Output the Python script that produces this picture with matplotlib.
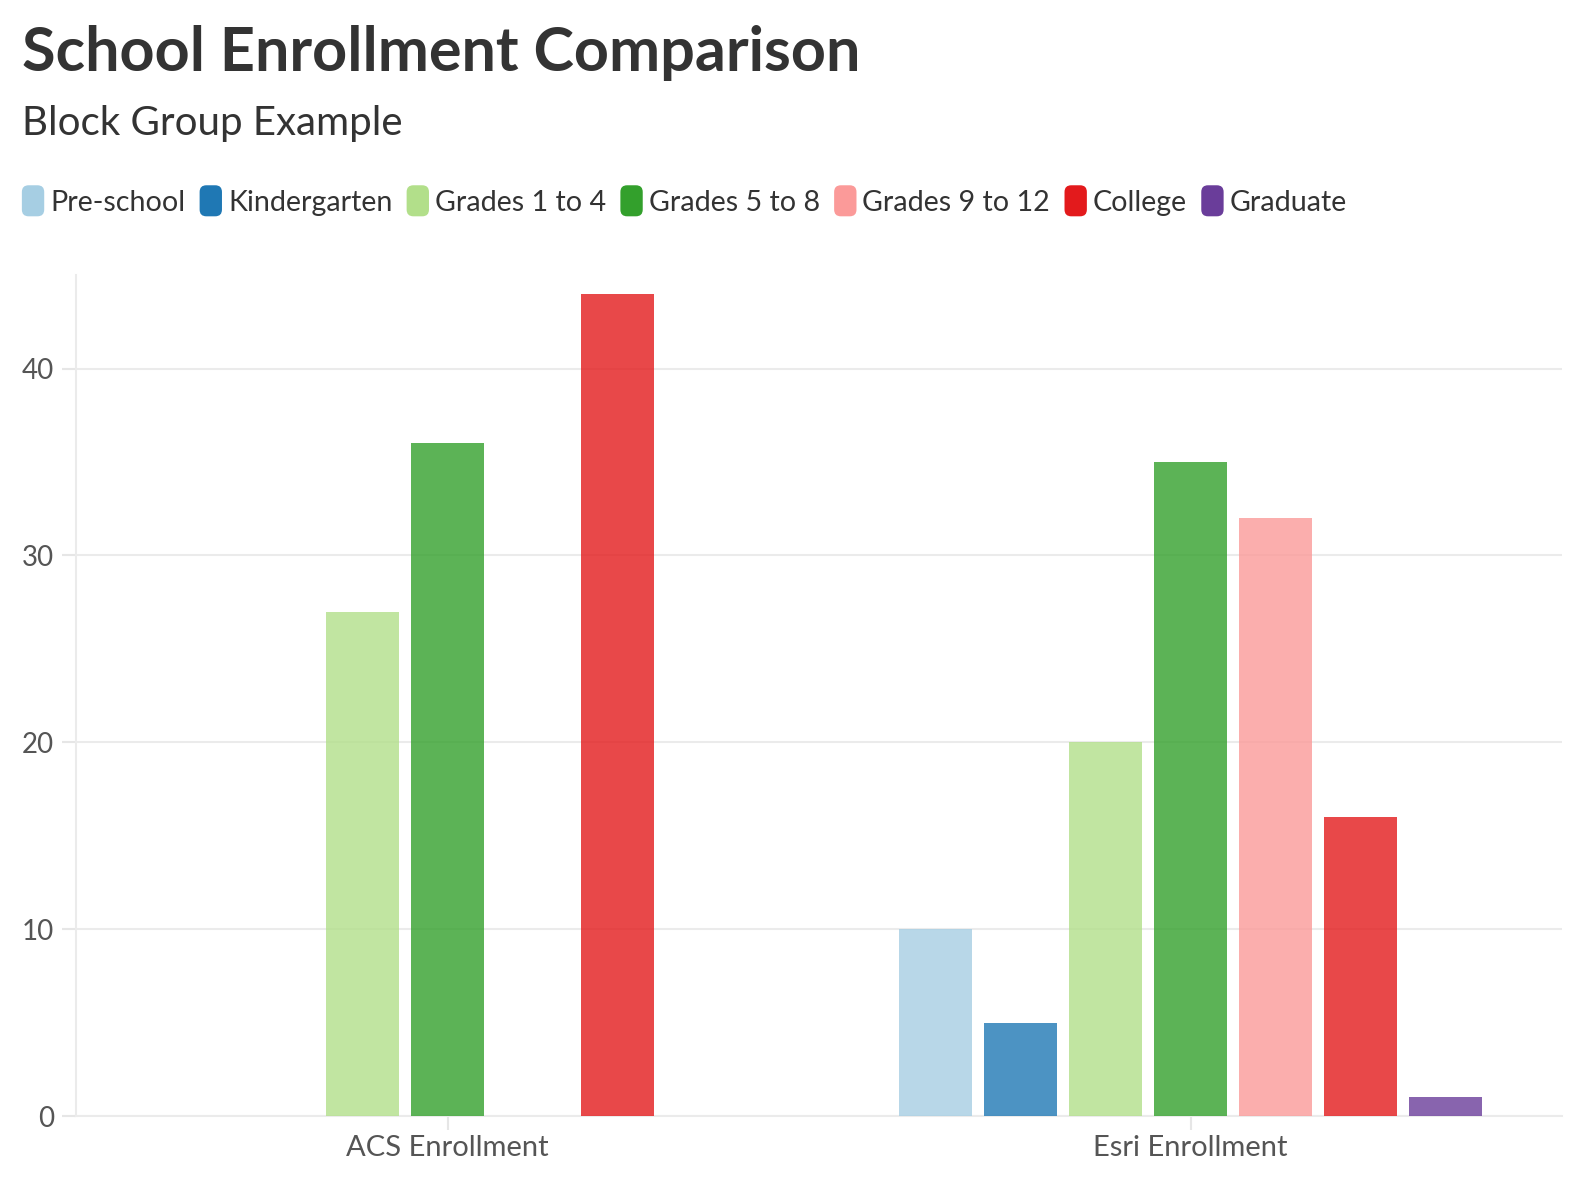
import numpy as np
import matplotlib
matplotlib.use("Agg")
import matplotlib.pyplot as plt
from matplotlib.patches import FancyBboxPatch
from matplotlib.legend_handler import HandlerPatch
from matplotlib.patches import Patch

plt.rcParams['font.family'] = ['Lato', 'DejaVu Sans']

groups = ["ACS Enrollment", "Esri Enrollment"]
levels = ["Pre-school", "Kindergarten", "Grades 1 to 4", "Grades 5 to 8",
          "Grades 9 to 12", "College", "Graduate"]
acs = [0, 0, 27, 36, 0, 44, 0]
esri = [10, 5, 20, 35, 32, 16, 1]
colors = ["#a6cee3", "#1f78b4", "#b2df8a", "#33a02c", "#fb9a99", "#e31a1c", "#6a3d9a"]


class RoundBox(HandlerPatch):
    def create_artists(self, legend, orig_handle, xdescent, ydescent, width, height, fontsize, trans):
        h = height * 1.55
        w = h * 0.72
        p = FancyBboxPatch((-xdescent + (width - w) / 2, -ydescent + (height - h) / 2), w, h,
                           boxstyle="round,pad=0,rounding_size=%f" % (w * 0.3),
                           facecolor=orig_handle.get_facecolor(), edgecolor="none", transform=trans)
        return [p]


fig = plt.figure(figsize=(15.88, 11.86), dpi=100)
ax = fig.add_axes([0.048, 0.059, 0.9356, 0.709])

values = np.array([acs, esri])
x = np.arange(len(groups))
n = len(levels)
slot = 0.8 / n
for i in range(n):
    ax.bar(x - 0.4 + slot * (i + 0.5), values[:, i], width=slot * 0.86,
           color=colors[i], alpha=0.8, linewidth=0, zorder=3)

ax.set_xlim(-0.5, 1.5)
ax.set_ylim(0, 45)
ax.set_yticks([0, 10, 20, 30, 40])
ax.set_xticks(x)
ax.set_xticklabels(groups)
ax.grid(axis="y", color="#ebebeb", linewidth=1.5, zorder=0)
for s in ["top", "right"]:
    ax.spines[s].set_visible(False)
for s in ["left", "bottom"]:
    ax.spines[s].set_color("#ebebeb")
    ax.spines[s].set_linewidth(1.5)
ax.tick_params(axis="both", colors="#e6e6e6", width=1.5, length=10, labelcolor="#555555")
ax.tick_params(axis="x", pad=4, labelsize=21)
ax.tick_params(axis="y", pad=6, labelsize=20)

fig.text(0.014, 0.955, "School Enrollment Comparison", fontsize=44, fontweight="bold",
         color="#333333", va="center", ha="left")
fig.text(0.014, 0.896, "Block Group Example", fontsize=29, fontweight="normal",
         color="#333333", va="center", ha="left")

handles = [Patch(facecolor=c) for c in colors]
leg = fig.legend(handles, levels, loc="center left", bbox_to_anchor=(0.0145, 0.829), ncol=n,
                 frameon=False, fontsize=20.6, handlelength=0.7, handletextpad=0.25,
                 columnspacing=0.54, borderpad=0, borderaxespad=0,
                 handler_map={Patch: RoundBox()})
for t in leg.get_texts():
    t.set_color("#333333")

fig.savefig("out.png", dpi=100)
